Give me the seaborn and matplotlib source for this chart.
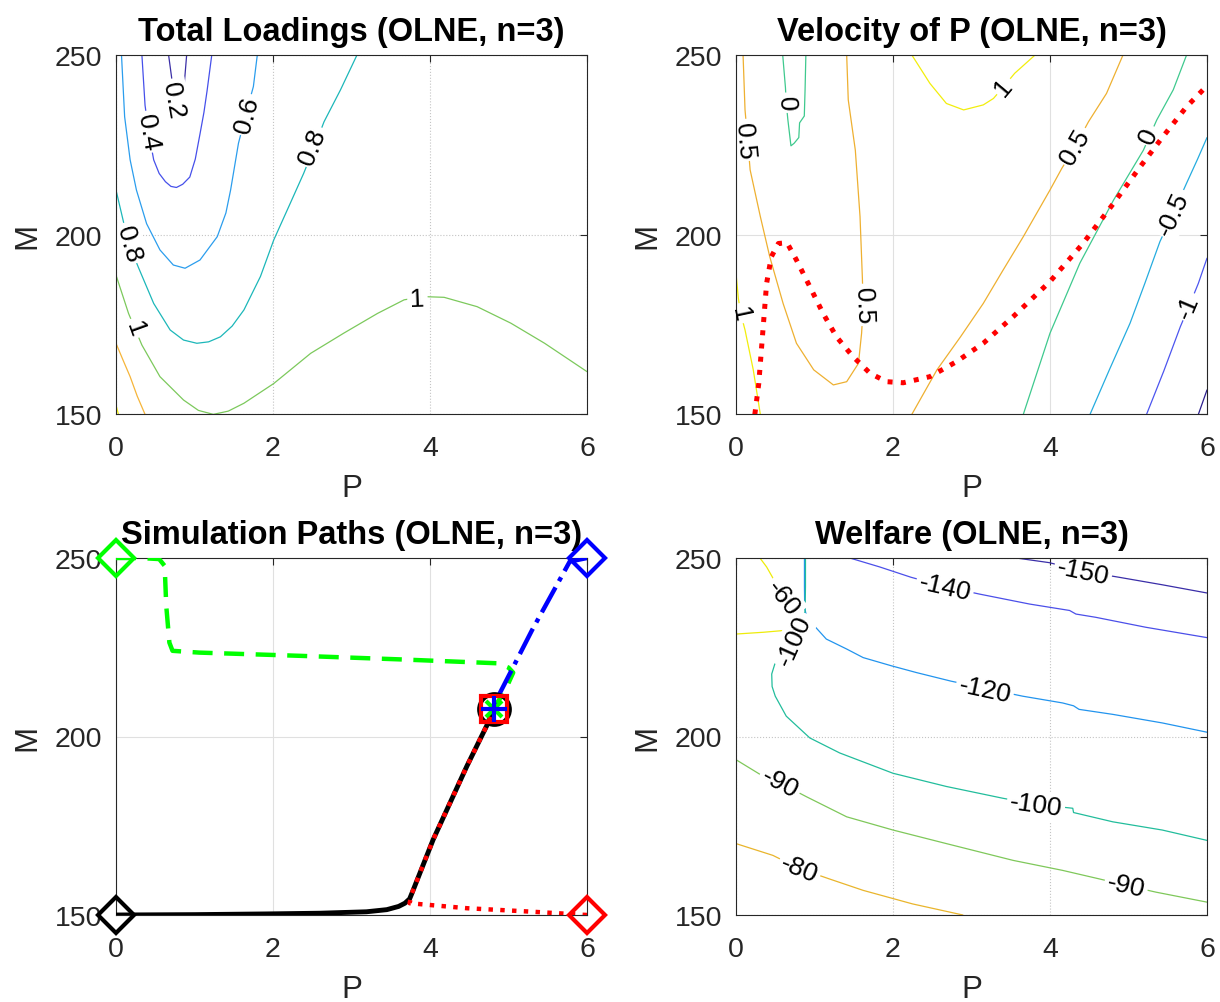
import matplotlib
matplotlib.use("Agg")
import matplotlib.pyplot as plt
import seaborn as sns

# ================= Panel 1: Total Loadings (contour lines) =================
tl_02_P = [0.67, 0.71, 0.74, 0.78, 0.82, 0.85, 0.87, 0.90]
tl_02_M = [250, 243.5, 236, 232.5, 233.5, 236.4, 242, 250]
tl_04_P = [0.33, 0.37, 0.42, 0.48, 0.55, 0.63, 0.70, 0.77, 0.85, 0.94, 1.01, 1.07, 1.12, 1.16, 1.22]
tl_04_M = [250, 236, 228, 220.8, 217, 214.7, 213.4, 213.1, 214, 216, 221, 228, 234, 240, 250]
tl_06_P = [0.07, 0.11, 0.18, 0.26, 0.39, 0.56, 0.73, 0.88, 1.07, 1.29, 1.40, 1.46, 1.56, 1.66, 1.75, 1.80]
tl_06_M = [250, 232.8, 220.8, 212.4, 203, 195.7, 191.5, 190.6, 192.9, 199.4, 206, 212.4, 225.4, 234, 241.2, 250]
tl_08_P = [0, 0.16, 0.29, 0.48, 0.69, 0.86, 1.03, 1.18, 1.33, 1.48, 1.63, 1.84, 2.01, 2.22, 2.39, 2.52, 2.65, 2.86, 3.07]
tl_08_M = [212.4, 197.5, 190.6, 180.8, 173.4, 170.6, 169.7, 170.1, 171.5, 174.5, 179, 188.3, 198.5, 208.7, 217, 224, 231.4, 240.3, 250]
tl_10_P = [0, 0.16, 0.33, 0.56, 0.86, 1.05, 1.24, 1.43, 1.63, 2.01, 2.48, 2.90, 3.33, 3.67, 3.92, 4.18, 4.60, 5.03, 5.46, 6.0]
tl_10_M = [188.7, 178, 169.2, 160.4, 153.9, 151, 149.9, 150.8, 153, 158.5, 166.9, 172.5, 178, 181.8, 182.7, 182.5, 179.9, 175.3, 169.7, 161.8]
tl_12_P = [0, 0.09, 0.18, 0.27, 0.37]
tl_12_M = [169.7, 165, 160.4, 155, 149.9]
tl_14_P = [0, 0.03]
tl_14_M = [152.5, 150]

tl_lab_text = ["0.2", "0.4", "0.6", "0.8", "0.8", "1", "1"]
tl_lab_P = [0.73, 0.41, 1.67, 0.16, 2.50, 0.24, 3.84]
tl_lab_M = [237.5, 228.6, 233.3, 197.5, 224.5, 173.9, 182.2]
tl_lab_rot = [-80, -80, 75, -74, 68, -70, 2]

# ================= Panel 2: Velocity of P =================
vp_m15_P = [5.89, 6.0]
vp_m15_M = [149.9, 156.7]
vp_m10_P = [5.23, 5.45, 5.66, 5.78, 5.89, 6.0]
vp_m10_M = [149.9, 162, 174.3, 180.5, 186.4, 193.4]
vp_m05_P = [4.51, 4.76, 5.02, 5.21, 5.40, 5.57, 5.74, 5.88, 6.0]
vp_m05_M = [149.9, 162.5, 175.3, 186.5, 198, 206, 214.3, 221, 227]
vp_00a_P = [3.66, 4.0, 4.38, 4.81, 5.19, 5.36, 5.57, 5.74]
vp_00a_M = [149.9, 172.5, 192, 209.6, 223.5, 231.9, 240.3, 250]
vp_00b_P = [0.595, 0.63, 0.64, 0.66, 0.68, 0.70, 0.74, 0.80, 0.81, 0.87, 0.88, 0.89]
vp_00b_M = [250, 240.9, 236.7, 232.1, 228.4, 224.7, 225.4, 227, 231.1, 233, 240.4, 250]
vp_05a_P = [0.09, 0.115, 0.15, 0.18, 0.31, 0.43, 0.60, 0.77, 0.99, 1.24, 1.41, 1.56, 1.60, 1.62, 1.61, 1.58, 1.52, 1.43, 1.41]
vp_05a_M = [250, 234.7, 226, 218, 205, 193.8, 180.8, 169.7, 162.3, 158.1, 159, 164.1, 172.5, 180, 187.8, 205, 223.5, 237.5, 250]
vp_05b_P = [2.24, 2.56, 2.86, 3.15, 3.40, 3.66, 4.0, 4.15, 4.32, 4.49, 4.72, 4.93]
vp_05b_M = [149.9, 162.3, 171.5, 180.8, 190, 199.4, 212.4, 218.4, 224.5, 231.4, 239.3, 250]
vp_10a_P = [0, 0.03, 0.06, 0.115, 0.22, 0.31]
vp_10a_M = [189.2, 182.2, 178, 173.4, 162.3, 149.9]
vp_10b_P = [2.24, 2.47, 2.68, 2.90, 3.15, 3.28, 3.41, 3.55, 3.81]
vp_10b_M = [250, 242.1, 236.5, 234.7, 236.1, 237.9, 241.2, 244.9, 250]
vp_null_P = [0.24, 0.29, 0.33, 0.39, 0.45, 0.54, 0.65, 0.77, 0.94, 1.11, 1.28, 1.49, 1.71, 1.92, 2.13,
             2.47, 2.81, 3.15, 3.53, 4.0, 4.42, 4.81, 5.15, 5.44, 5.74, 5.95, 6.0]
vp_null_M = [149.9, 158.5, 169.7, 186.4, 193.8, 197.5, 197.7, 192.9, 185.5, 178, 171.5, 166, 161.3, 159, 158.7,
             160.4, 164.6, 169.7, 177.1, 186.9, 197.5, 208.7, 218.9, 227.3, 235.6, 240.3, 241.2]

vp_lab_text = ["0", "0.5", "1", "0.5", "1", "0.5", "0", "-0.5", "-1"]
vp_lab_P = [0.64, 0.115, 0.05, 1.62, 3.41, 4.32, 5.25, 5.57, 5.76]
vp_lab_M = [236.7, 226.3, 178, 180.4, 241.2, 224.5, 227.7, 205.9, 179.9]
vp_lab_rot = [-88, -85, -78, -88, 50, 60, 66, 65, 67]

# ================= Panel 3: Simulation paths =================
sim_green_P = [0, 0.3, 0.55, 0.62, 0.64, 0.68, 0.72, 1.06, 2.34, 3.62, 4.87, 5.0, 5.06, 4.97, 4.81]
sim_green_M = [250, 250, 249.7, 247.8, 236.6, 226.3, 224, 223.5, 222.6, 221.6, 220.5, 219.3, 217.9, 213.5, 207.8]
sim_blue_P = [6.0, 5.78, 5.3, 4.87, 4.81]
sim_blue_M = [250, 249, 229.8, 211.3, 207.8]
sim_black_P = [0, 1.0, 1.91, 2.6, 3.19, 3.45, 3.6, 3.68, 3.74, 3.77, 4.04, 4.47, 4.72, 4.81]
sim_black_M = [150, 150.1, 150.3, 150.5, 150.9, 151.5, 152.4, 153.3, 154.5, 156.1, 171.1, 191.7, 202.9, 207.8]
sim_red_P = [6.0, 5.32, 4.47, 3.74, 3.77, 4.04, 4.47, 4.72, 4.81]
sim_red_M = [150, 150.9, 151.9, 153.3, 156.1, 171.1, 191.7, 202.9, 207.8]
ss_P = 4.81
ss_M = 207.8

# ================= Panel 4: Welfare =================
wf_m150_P = [3.57, 3.99, 4.42, 4.88, 5.43, 6.0]
wf_m150_M = [250, 248.7, 246.3, 244.6, 242.5, 240.2]
wf_m150b_P = [4.31, 4.33, 4.35, 4.33, 4.31]
wf_m150b_M = [244, 245, 244, 243, 244]
wf_m140_P = [1.45, 1.83, 2.23, 2.66, 3.10, 3.74, 4.25, 4.33, 4.58, 5.22, 6.0]
wf_m140_M = [250, 247.5, 244.6, 242, 239.9, 237.1, 235.3, 234.3, 233.4, 230.6, 227.7]
wf_m120_P = [0.872, 0.872, 0.875, 0.90, 0.94, 1.15, 1.41, 1.62, 1.98, 2.30, 2.74, 3.17, 3.65, 4.16, 4.30, 4.37, 4.8, 5.43, 6.0]
wf_m120_M = [250, 242, 236, 233.5, 232.4, 227.3, 224.5, 222.1, 219.8, 217.9, 215.5, 213.5, 211.3, 209.4, 208.6, 207.6, 206.2, 203.8, 201.2]
wf_m100_P = [0.885, 0.885, 0.88, 0.80, 0.70, 0.58, 0.50, 0.455, 0.46, 0.50, 0.64, 0.94, 1.32, 2.0, 2.68, 3.40, 3.82, 4.29, 4.30, 4.80, 5.43, 6.0]
wf_m100_M = [250, 242, 235, 231, 227.5, 224, 220.7, 217.5, 214, 211.3, 205.7, 199.6, 195.4, 189.7, 186, 182.7, 181, 179.9, 178.7, 176.1, 173.8, 170.9]
wf_m90_P = [0, 0.35, 0.56, 0.90, 1.41, 2.0, 2.68, 3.53, 4.16, 4.63, 4.97, 5.35, 6.0]
wf_m90_M = [193.5, 188.8, 187, 183.1, 177.5, 173.8, 170, 165.3, 162.5, 160.1, 158.3, 156.4, 153.6]
wf_m80_P = [0, 0.47, 0.81, 1.19, 1.62, 2.25, 2.89]
wf_m80_M = [170, 166.7, 163, 160.1, 156.9, 153.1, 150]
wf_m60_P = [0.305, 0.39, 0.475, 0.6, 0.70, 0.76, 0.72, 0.56, 0.35, 0.0]
wf_m60_M = [250, 247.5, 244.2, 238, 232.5, 230.6, 229.9, 229.6, 229.2, 228.7]

wf_lab_text = ["-60", "-100", "-140", "-150", "-120", "-100", "-90", "-90", "-80"]
wf_lab_P = [0.60, 0.74, 2.66, 4.42, 3.17, 3.82, 0.56, 4.97, 0.81]
wf_lab_M = [238.8, 227.0, 241.8, 246.1, 213.2, 180.8, 186.9, 158.3, 163]
wf_lab_rot = [-52, 66, -13, -12, -12, -8, -28, -13, -22]

# ---------------- style ----------------
sns.set_theme(style="white")
plt.rcParams["font.family"] = ["Liberation Sans", "DejaVu Sans"]
AX_COL = "#262626"
LAB_FS = 19

fig = plt.figure(figsize=(12.2, 10.03), dpi=100)
W, H = 1220.0, 1003.0
ax1 = fig.add_axes([116 / W, 1 - 415 / H, 471 / W, 359 / H])
ax2 = fig.add_axes([736 / W, 1 - 415 / H, 471 / W, 359 / H])
ax3 = fig.add_axes([116 / W, 1 - 916 / H, 471 / W, 357 / H])
ax4 = fig.add_axes([736 / W, 1 - 916 / H, 471 / W, 357 / H])


def style_axes(ax, title, grid_ls, grid_col):
    ax.set_xlim(0, 6)
    ax.set_ylim(150, 250)
    ax.set_xticks([0, 2, 4, 6])
    ax.set_yticks([150, 200, 250])
    ax.set_axisbelow(True)
    ax.grid(True, linestyle=grid_ls, color=grid_col, linewidth=0.8)
    ax.tick_params(axis="both", direction="in", top=True, right=True, length=5, width=0.8,
                   color=AX_COL, labelcolor=AX_COL, labelsize=20.5)
    ax.tick_params(axis="x", pad=15)
    ax.tick_params(axis="y", pad=10)
    for s in ax.spines.values():
        s.set_visible(True)
        s.set_color(AX_COL)
        s.set_linewidth(0.8)
    ax.set_xlabel("P", fontsize=22.5, color=AX_COL, labelpad=9)
    ax.set_ylabel("M", fontsize=22.5, color=AX_COL, labelpad=8.5)
    ax.set_title(title, fontsize=23.5, fontweight="bold", color="black", pad=10.5)


def contour_line(ax, P, M, color):
    sns.lineplot(x=P, y=M, sort=False, estimator=None, color=color, linewidth=0.9, ax=ax, zorder=2)


def contour_labels(ax, texts, Ps, Ms, rots):
    for t, p, m, r in zip(texts, Ps, Ms, rots):
        ax.text(p, m, t, rotation=r, rotation_mode="anchor", ha="center", va="center", fontsize=LAB_FS,
                color="none", bbox=dict(facecolor="white", edgecolor="none", pad=2.0), zorder=2.3)
    for t, p, m, r in zip(texts, Ps, Ms, rots):
        ax.text(p, m, t, rotation=r, rotation_mode="anchor", ha="center", va="center", fontsize=LAB_FS,
                color="black", zorder=4)


# ---- Panel 1 ----
tl_lines = [(tl_02_P, tl_02_M, "#3b2fa6"), (tl_04_P, tl_04_M, "#4650ea"), (tl_06_P, tl_06_M, "#2b9ded"),
            (tl_08_P, tl_08_M, "#1cb7b9"), (tl_10_P, tl_10_M, "#7cc95c"), (tl_12_P, tl_12_M, "#f6b53a"),
            (tl_14_P, tl_14_M, "#f3ef12")]
for P, M, c in tl_lines:
    contour_line(ax1, P, M, c)
contour_labels(ax1, tl_lab_text, tl_lab_P, tl_lab_M, tl_lab_rot)
style_axes(ax1, "Total Loadings (OLNE, n=3)", ":", "#c4c4c4")

# ---- Panel 2 ----
vp_lines = [(vp_m15_P, vp_m15_M, "#2c1f8f"), (vp_m10_P, vp_m10_M, "#4c55ef"), (vp_m05_P, vp_m05_M, "#25acdf"),
            (vp_00a_P, vp_00a_M, "#3fc98e"), (vp_00b_P, vp_00b_M, "#3fc98e"), (vp_05a_P, vp_05a_M, "#eeb031"),
            (vp_05b_P, vp_05b_M, "#eeb031"), (vp_10a_P, vp_10a_M, "#f2ee0c"), (vp_10b_P, vp_10b_M, "#f2ee0c")]
for P, M, c in vp_lines:
    contour_line(ax2, P, M, c)
contour_labels(ax2, vp_lab_text, vp_lab_P, vp_lab_M, vp_lab_rot)
sns.lineplot(x=vp_null_P, y=vp_null_M, sort=False, estimator=None, color="#ff0000", linewidth=3.6,
             linestyle=":", ax=ax2, zorder=5)
style_axes(ax2, "Velocity of P (OLNE, n=3)", "-", "#e0e0e0")

# ---- Panel 3 ----
sns.lineplot(x=sim_green_P, y=sim_green_M, sort=False, estimator=None, color="#00ff00", linewidth=3.2,
             dashes=False, ax=ax3, zorder=3).lines[-1].set_dashes([4.5, 2.6])
sns.lineplot(x=sim_blue_P, y=sim_blue_M, sort=False, estimator=None, color="#0000ff", linewidth=3.2,
             linestyle="-.", ax=ax3, zorder=3)
sns.lineplot(x=sim_black_P, y=sim_black_M, sort=False, estimator=None, color="black", linewidth=3.5,
             linestyle="-", ax=ax3, zorder=3)
sns.lineplot(x=sim_red_P, y=sim_red_M, sort=False, estimator=None, color="#ff0000", linewidth=3.2,
             linestyle=":", ax=ax3, zorder=4)
starts = [(sim_green_P[0], sim_green_M[0], "#00ff00"), (sim_blue_P[0], sim_blue_M[0], "#0000ff"),
          (sim_black_P[0], sim_black_M[0], "black"), (sim_red_P[0], sim_red_M[0], "#ff0000")]
for p, m, c in starts:
    ax3.plot([p], [m], marker="D", ms=18, mfc="none", mec=c, mew=3, linestyle="none", clip_on=False, zorder=6)
ax3.plot([ss_P], [ss_M], marker="o", ms=22, mfc="none", mec="black", mew=3, linestyle="none", zorder=6)
ax3.plot([ss_P], [ss_M], marker="s", ms=19, mfc="none", mec="#ff0000", mew=3, linestyle="none", zorder=7)
ax3.plot([ss_P], [ss_M], marker="x", ms=11, mfc="none", mec="#00ff00", mew=3, linestyle="none", zorder=8)
ax3.plot([ss_P], [ss_M], marker="+", ms=19, mfc="none", mec="#0000ff", mew=3, linestyle="none", zorder=9)
style_axes(ax3, "Simulation Paths (OLNE, n=3)", "-", "#e0e0e0")

# ---- Panel 4 ----
wf_lines = [(wf_m150_P, wf_m150_M, "#3a2ea8"), (wf_m150b_P, wf_m150b_M, "#3a2ea8"), (wf_m140_P, wf_m140_M, "#4b4fe9"),
            (wf_m120_P, wf_m120_M, "#2294ee"), (wf_m100_P, wf_m100_M, "#22bd9c"), (wf_m90_P, wf_m90_M, "#7fc85a"),
            (wf_m80_P, wf_m80_M, "#e9b52c"), (wf_m60_P, wf_m60_M, "#eeec0a")]
for P, M, c in wf_lines:
    contour_line(ax4, P, M, c)
contour_labels(ax4, wf_lab_text, wf_lab_P, wf_lab_M, wf_lab_rot)
style_axes(ax4, "Welfare (OLNE, n=3)", ":", "#c4c4c4")

for ax in (ax1, ax2, ax3, ax4):
    leg = ax.get_legend()
    if leg is not None:
        leg.remove()

fig.savefig("out.png", dpi=100)
